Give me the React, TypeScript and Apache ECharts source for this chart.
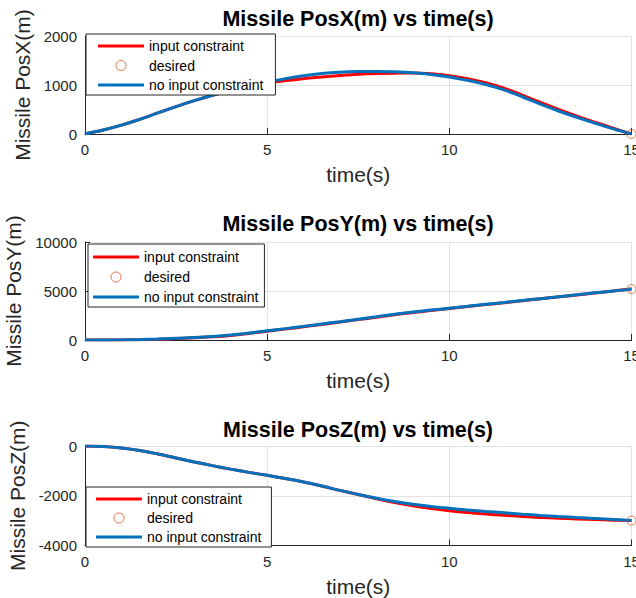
import React, { useEffect, useRef } from "react";
import * as echarts from "echarts";

const time = [0, 0.5, 1, 1.5, 2, 2.5, 3, 3.5, 4, 4.5, 5, 5.5, 6, 6.5, 7, 7.5, 8, 8.5, 9, 9.5, 10, 10.5, 11, 11.5, 12, 12.5, 13, 13.5, 14, 14.5, 15];

const posXConstr = [0, 80, 180, 300, 430, 560, 680, 790, 890, 970, 1040, 1090, 1130, 1165, 1195, 1220, 1235, 1242, 1243, 1230, 1190, 1130, 1045, 935, 795, 645, 500, 365, 240, 118, 0];
const posXFree = [0, 80, 180, 300, 430, 560, 680, 790, 890, 980, 1060, 1130, 1190, 1235, 1262, 1275, 1278, 1268, 1248, 1215, 1165, 1095, 1010, 900, 760, 610, 470, 340, 220, 105, 0];

const posYConstr = [0, 0, 10, 35, 80, 145, 225, 330, 470, 670, 900, 1120, 1350, 1590, 1830, 2080, 2330, 2580, 2810, 3010, 3210, 3410, 3610, 3800, 4000, 4200, 4400, 4600, 4800, 5000, 5200];
const posYFree = [0, 5, 20, 50, 100, 170, 250, 360, 510, 710, 940, 1160, 1390, 1630, 1870, 2120, 2370, 2620, 2850, 3050, 3245, 3440, 3640, 3830, 4030, 4220, 4420, 4610, 4810, 5000, 5200];

const posZConstr = [0, -20, -80, -180, -320, -480, -640, -790, -930, -1060, -1180, -1310, -1450, -1610, -1785, -1950, -2120, -2270, -2400, -2510, -2600, -2675, -2735, -2785, -2830, -2870, -2900, -2930, -2955, -2980, -3000];
const posZFree = [0, -20, -80, -180, -320, -480, -640, -790, -930, -1060, -1180, -1310, -1450, -1610, -1785, -1950, -2100, -2230, -2340, -2430, -2505, -2570, -2630, -2685, -2740, -2790, -2835, -2875, -2910, -2950, -2990];

const desiredT = [15];
const desiredX = [0];
const desiredY = [5200];
const desiredZ = [-3000];

const xTicks = { min: 0, max: 15, interval: 5 };
const yRanges = [
  { min: 0, max: 2000, interval: 1000 },
  { min: 0, max: 10000, interval: 5000 },
  { min: -4000, max: 0, interval: 2000 },
];

const titles = ["Missile PosX(m) vs time(s)", "Missile PosY(m) vs time(s)", "Missile PosZ(m) vs time(s)"];
const yNames = ["Missile PosX(m)", "Missile PosY(m)", "Missile PosZ(m)"];
const xName = "time(s)";
const seriesNames = ["input constraint", "desired", "no input constraint"];

const FONT = "'Liberation Sans', Arial, sans-serif";
const RED = "#ff0000";
const BLUE = "#0072bd";
const ORANGE = "#d95319";
const AXIS = "#262626";
const GRID = "#e2e2e2";

const pair = (t: number[], v: number[]) => t.map((x, i) => [x, v[i]]);

export default function App() {
  const ref = useRef<HTMLDivElement>(null);
  useEffect(() => {
    if (!ref.current) return;
    const chart = echarts.init(ref.current, null, { renderer: "svg" });

    const grids = [
      { left: 85, right: 4.5, top: 36, height: 98, outerBoundsMode: "none", containLabel: false },
      { left: 85, right: 4.5, top: 242, height: 98, outerBoundsMode: "none", containLabel: false },
      { left: 85, right: 4.5, top: 446, height: 99.5, outerBoundsMode: "none", containLabel: false },
    ];
    const titleTops = [8, 213, 419];
    const yNameGaps = [49, 57, 52];
    const legendPos = [
      { left: 86, top: 34, padding: [5, 12, 3, 12], itemGap: 5.5 },
      { left: 88, top: 244, padding: [6, 6, 3, 5], itemGap: 6 },
      { left: 86, top: 487, padding: [5, 10, 3, 10], itemGap: 5 },
    ];

    const constrData = [posXConstr, posYConstr, posZConstr];
    const freeData = [posXFree, posYFree, posZFree];
    const desired = [desiredX, desiredY, desiredZ];

    const lineIcon = "path://M0,0 L46,0 L46,3 L0,3 Z";
    const plain = (v: number) => String(v);

    const option: any = {
      animation: false,
      backgroundColor: "#ffffff",
      textStyle: { fontFamily: FONT },
      title: titles.map((t, i) => ({
        text: t,
        left: 358,
        top: titleTops[i],
        textAlign: "center",
        padding: 0,
        textStyle: { fontFamily: FONT, fontSize: 21.5, fontWeight: "bold", color: "#000" },
      })),
      grid: grids,
      legend: legendPos.map((p) => ({
        orient: "vertical",
        left: p.left,
        top: p.top,
        padding: p.padding,
        itemGap: p.itemGap,
        itemWidth: 46,
        itemHeight: 10,
        selectedMode: false,
        backgroundColor: "#ffffff",
        borderColor: AXIS,
        borderWidth: 1,
        borderRadius: 0,
        textStyle: { fontFamily: FONT, fontSize: 14, color: "#000" },
        data: [
          { name: seriesNames[0], icon: lineIcon, itemStyle: { color: RED, borderWidth: 0 } },
          { name: seriesNames[1], icon: "circle", itemStyle: { color: "rgba(0,0,0,0)", borderColor: ORANGE, borderWidth: 1 } },
          { name: seriesNames[2], icon: lineIcon, itemStyle: { color: BLUE, borderWidth: 0 } },
        ],
      })),
      xAxis: grids.map((_, i) => ({
        type: "value",
        gridIndex: i,
        min: xTicks.min,
        max: xTicks.max,
        interval: xTicks.interval,
        name: xName,
        nameLocation: "middle",
        nameGap: 30,
        nameTextStyle: { fontFamily: FONT, fontSize: 21, color: AXIS },
        axisLine: { show: true, onZero: false, lineStyle: { color: AXIS, width: 1 } },
        axisTick: { show: true, inside: true, length: 6, lineStyle: { color: AXIS } },
        axisLabel: { fontFamily: FONT, fontSize: 15, color: AXIS, margin: 8, formatter: plain, hideOverlap: false },
        splitLine: { show: true, lineStyle: { color: GRID, width: 1 } },
      })),
      yAxis: grids.map((_, i) => ({
        type: "value",
        gridIndex: i,
        min: yRanges[i].min,
        max: yRanges[i].max,
        interval: yRanges[i].interval,
        name: yNames[i],
        nameLocation: "middle",
        nameGap: yNameGaps[i],
        nameTextStyle: { fontFamily: FONT, fontSize: 21, color: AXIS },
        axisLine: { show: true, lineStyle: { color: AXIS, width: 1 } },
        axisTick: { show: true, inside: true, length: 5, lineStyle: { color: AXIS } },
        axisLabel: { fontFamily: FONT, fontSize: 15, color: AXIS, margin: 8, formatter: plain },
        splitLine: { show: true, lineStyle: { color: GRID, width: 1 } },
      })),
      series: grids.flatMap((_, i) => [
        {
          name: seriesNames[0],
          type: "line",
          xAxisIndex: i,
          yAxisIndex: i,
          data: pair(time, constrData[i]),
          showSymbol: false,
          smooth: 0.4,
          color: RED,
          lineStyle: { color: RED, width: 3 },
          z: 2,
        },
        {
          name: seriesNames[1],
          type: "scatter",
          xAxisIndex: i,
          yAxisIndex: i,
          data: pair(desiredT, desired[i]),
          symbol: "circle",
          symbolSize: 9,
          clip: false,
          itemStyle: { color: "rgba(0,0,0,0)", borderColor: ORANGE, borderWidth: 1 },
          z: 4,
        },
        {
          name: seriesNames[2],
          type: "line",
          xAxisIndex: i,
          yAxisIndex: i,
          data: pair(time, freeData[i]),
          showSymbol: false,
          smooth: 0.4,
          color: BLUE,
          lineStyle: { color: BLUE, width: 3 },
          z: 3,
        },
      ]),
    };

    chart.setOption(option);
    return () => chart.dispose();
  }, []);

  return (
    <div
      ref={ref}
      style={{ position: "fixed", left: 0, top: 0, width: 636, height: 598, background: "#fff" }}
    />
  );
}
